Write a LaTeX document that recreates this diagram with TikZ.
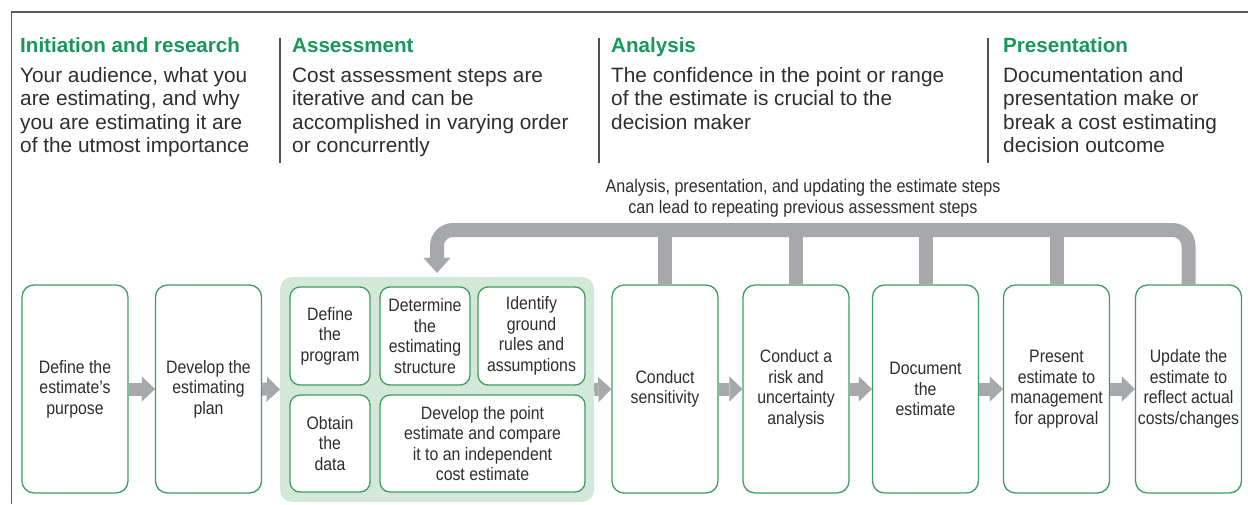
\documentclass[tikz,border=0pt]{standalone}
\usepackage{fontspec}
\setmainfont{Liberation Sans}
\newfontfamily\narrowfont[FakeStretch=0.88]{Liberation Sans}
\usetikzlibrary{arrows.meta}
\definecolor{hgreen}{HTML}{17985A}
\definecolor{bgreen}{HTML}{3D9E62}
\definecolor{lgreen}{HTML}{D4E8DA}
\definecolor{agray}{HTML}{A6A8AB}
\definecolor{tcol}{HTML}{2E2E2E}
\definecolor{fcol}{HTML}{5A5A5A}
\newcommand\mybxfont{\narrowfont\fontsize{18}{20.5}\selectfont}
\begin{document}
\begin{tikzpicture}[x=1pt,y=-1pt,
  stepbox/.style={draw=bgreen, line width=1.3pt, rounded corners=12pt, fill=white,
    minimum width=106pt, minimum height=208pt, align=center, inner sep=0pt,
    text=tcol, font=\mybxfont},
  inbox/.style={draw=bgreen, line width=1.3pt, rounded corners=10pt, fill=white,
    align=center, inner sep=0pt, text=tcol, font=\mybxfont},
  grpbox/.style={fill=lgreen, rounded corners=12pt, minimum width=314pt,
    minimum height=225pt, inner sep=0pt},
  head/.style={anchor=base west, inner sep=0pt, text=hgreen,
    font=\bfseries\fontsize{20.6}{23.5}\selectfont},
  body/.style={anchor=base west, inner sep=0pt, text=tcol,
    font=\fontsize{20.8}{23.5}\selectfont},
  capt/.style={anchor=base, inner sep=0pt, text=tcol,
    font=\narrowfont\fontsize{18.3}{21}\selectfont},
  sepline/.style={draw=fcol!90!black, line width=1.8pt},
  blockarrow/.style={draw=agray, line width=13pt,
    -{Triangle[width=25pt,length=13pt,line width=0.01pt]}},
  fbline/.style={draw=agray, line width=14pt}
]
\useasboundingbox (0,0) rectangle (1248,504);

% frame
\draw[fcol, line width=1.5pt] (1248,12) -- (11.5,12) -- (11.5,504);

% column separators
\draw[sepline] (280,38) -- (280,163);
\draw[sepline] (599,38) -- (599,163);
\draw[sepline] (988,38) -- (988,163);

% headings
\node[head] (h1) at (20,52.5) {Initiation and research};
\node[head] (h2) at (292,52.5) {Assessment};
\node[head] (h3) at (611,52.5) {Analysis};
\node[head] (h4) at (1003,52.5) {Presentation};

% descriptions
\node[body] (t1) at (20,82) {\parbox[t]{255pt}{Your audience, what you\\are estimating, and why\\you are estimating it are\\of the utmost importance}};
\node[body] (t2) at (292,82) {\parbox[t]{300pt}{Cost assessment steps are\\iterative and can be\\accomplished in varying order\\or concurrently}};
\node[body] (t3) at (611,82) {\parbox[t]{370pt}{The confidence in the point or range\\of the estimate is crucial to the\\decision maker}};
\node[body] (t4) at (1003,82) {\parbox[t]{240pt}{Documentation and\\presentation make or\\break a cost estimating\\decision outcome}};

% caption
\node[capt] (cap) at (803,192) {\parbox[t]{450pt}{\centering Analysis, presentation, and updating the estimate steps\\can lead to repeating previous assessment steps}};

% boxes
\node[stepbox] (b1) at (75,389) {Define the\\estimate’s\\purpose};
\node[stepbox] (b2) at (208.5,389) {Develop the\\estimating\\plan};
\node[grpbox] (grp) at (437,389.5) {};
\node[inbox, minimum width=80pt, minimum height=98pt] (p1) at (330,336) {Define\\the\\program};
\node[inbox, minimum width=90pt, minimum height=98pt] (p2) at (425,336) {Determine\\the\\estimating\\structure};
\node[inbox, minimum width=107pt, minimum height=98pt] (p3) at (531.5,336) {Identify\\ground\\rules and\\assumptions};
\node[inbox, minimum width=80pt, minimum height=97pt] (p4) at (330,443.5) {Obtain\\the\\data};
\node[inbox, minimum width=205pt, minimum height=97pt] (p5) at (482.5,443.5) {Develop the point\\estimate and compare\\it to an independent\\cost estimate};
\node[stepbox] (b3) at (665,389) {Conduct\\sensitivity};
\node[stepbox] (b4) at (796,389) {Conduct a\\risk and\\uncertainty\\analysis};
\node[stepbox] (b5) at (925.5,389) {Document\\the\\estimate};
\node[stepbox] (b6) at (1056.5,389) {Present\\estimate to\\management\\for approval};
\node[stepbox] (b7) at (1188.5,389) {Update the\\estimate to\\reflect actual\\costs/changes};

% forward arrows
\draw[blockarrow] (b1.east) -- (b2.west);
\draw[blockarrow] (b2.east) -- (grp.west);
\draw[blockarrow] (grp.east) -- (b3.west);
\draw[blockarrow] (b3.east) -- (b4.west);
\draw[blockarrow] (b4.east) -- (b5.west);
\draw[blockarrow] (b5.east) -- (b6.west);
\draw[blockarrow] (b6.east) -- (b7.west);

% feedback loop
\coordinate (fb) at (0,230);
\draw[fbline] (b3.north) -- (b3.north |- fb);
\draw[fbline] (b4.north) -- (b4.north |- fb);
\draw[fbline] (b5.north) -- (b5.north |- fb);
\draw[fbline] (b6.north) -- (b6.north |- fb);
\draw[fbline, rounded corners=16pt, -{Triangle[width=27pt,length=15pt,line width=0.01pt]}]
  (b7.north) -- (b7.north |- fb) -- (grp.north |- fb) -- ([yshift=4pt]grp.north);
\end{tikzpicture}
\end{document}
